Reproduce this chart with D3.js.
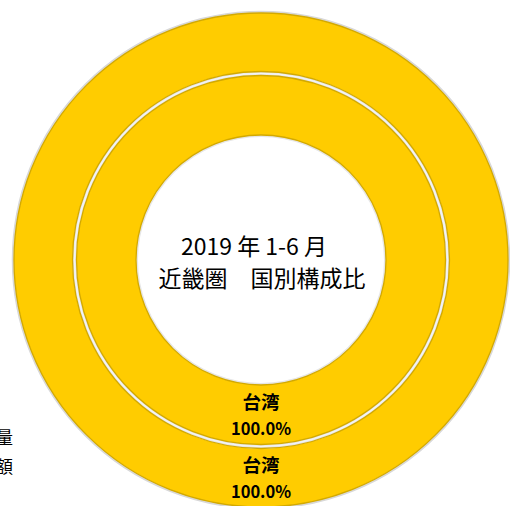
<!DOCTYPE html>
<html>
<head>
<meta charset="utf-8">
<script src="https://cdn.jsdelivr.net/npm/d3@7"></script>
<style>
  html, body { margin: 0; padding: 0; background: #fff; }
  svg { display: block; }
</style>
</head>
<body>
<div id="chart"></div>
<script>
// data
var categories = ["台湾"];
var seriesNames = ["数量", "金額"];       // inner ring, outer ring
var qtyValues = [100.0];
var amountValues = [100.0];
var titleLines = ["2019 年 1-6 月", "近畿圏　国別構成比"];

var width = 510, height = 506;
var cx = 261, cy = 260;
var holeR = 125, midR = 186.5, outerR = 247;

var svg = d3.select("#chart")
  .append("svg")
  .attr("width", width)
  .attr("height", height)

var g = svg.append("g")
  .attr("transform", "translate(" + cx + "," + cy + ")")

var color = d3.scaleOrdinal().domain(categories).range(["#FFCC00"]);

var pie = d3.pie().sort(null).value(function(d) { return d.value; });

var rings = [
  { name: seriesNames[0], values: qtyValues, inner: holeR, outer: midR - 2 },
  { name: seriesNames[1], values: amountValues, inner: midR + 2, outer: outerR }
];

// soft grey outline round the whole thing and in the gap
g.append("circle").attr("r", outerR + 1)
  .attr("fill", "none").attr("stroke", "#d8d8d8").attr("stroke-width", 2.5)
g.append("circle").attr("r", midR)
  .attr("fill", "none").attr("stroke", "#e2e2e2").attr("stroke-width", 4)
g.append("circle").attr("r", midR)
  .attr("fill", "none").attr("stroke", "#f4f4f4").attr("stroke-width", 1.5)
g.append("circle").attr("r", holeR - 1)
  .attr("fill", "none").attr("stroke", "#e6e6e6").attr("stroke-width", 2)

rings.forEach(function(ring) {
  var arc = d3.arc().innerRadius(ring.inner).outerRadius(ring.outer);
  var labelArc = d3.arc().innerRadius((ring.inner + ring.outer) / 2).outerRadius((ring.inner + ring.outer) / 2);
  var total = d3.sum(ring.values);
  var slices = pie(categories.map(function(c, i) { return { cat: c, value: ring.values[i] }; }));

  g.append("g")
    .selectAll("path")
    .data(slices)
    .enter().append("path")
      .attr("d", arc)
      .attr("fill", function(d) { return color(d.data.cat); })
      .attr("stroke", "#D3A900")
      .attr("stroke-width", 1.3)

  var lab = g.append("g")
    .selectAll("text")
    .data(slices)
    .enter().append("text")
      .attr("transform", function(d) { var c = labelArc.centroid(d); return "translate(" + c[0] + "," + c[1] + ")"; })
      .attr("text-anchor", "middle")
      .attr("font-family", "Noto Sans CJK JP")
      .attr("font-weight", "bold")
      .attr("fill", "#000")
  lab.append("tspan").attr("x", 0).attr("y", -6).attr("font-size", "18.5px")
    .text(function(d) { return d.data.cat; })
  lab.append("tspan").attr("x", 0).attr("y", 20).attr("font-size", "16.5px")
    .text(function(d) { return (d.data.value / total * 100).toFixed(1) + "%"; })
});

// title in the hole
svg.append("g")
  .attr("font-family", "'Liberation Sans Narrow', 'Noto Sans CJK JP'")
  .attr("font-size", "23px")
  .attr("fill", "#000")
  .attr("text-anchor", "middle")
  .selectAll("text")
  .data(titleLines)
  .enter().append("text")
    .attr("x", function(d, i) { return i == 0 ? 254 : 262; })
    .attr("y", function(d, i) { return 255 + i * 32; })
    .text(function(d) { return d; })

// legend, mostly cut off on the left
svg.append("g")
  .attr("font-family", "Noto Sans CJK JP")
  .attr("font-size", "17px")
  .attr("fill", "#000")
  .attr("text-anchor", "end")
  .selectAll("text")
  .data(seriesNames)
  .enter().append("text")
    .attr("x", 13)
    .attr("y", function(d, i) { return 444 + i * 29; })
    .text(function(d) { return d; })
</script>
</body>
</html>
